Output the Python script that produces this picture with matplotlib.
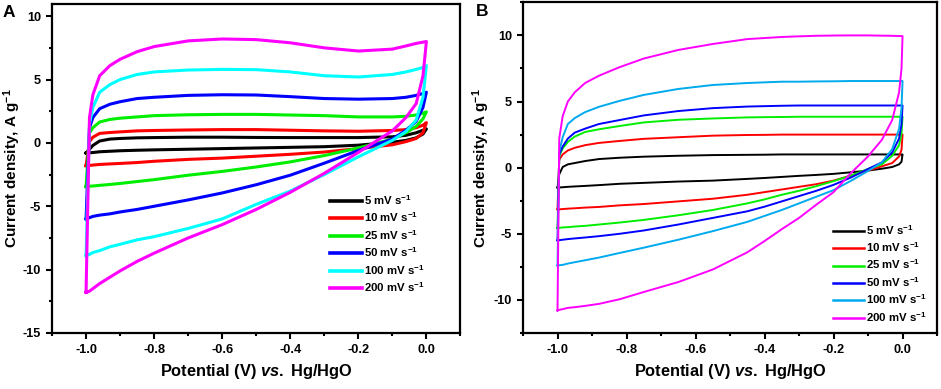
import matplotlib
matplotlib.use('Agg')
import matplotlib.pyplot as plt
from matplotlib.ticker import MultipleLocator

plt.rcParams['font.family'] = ['Liberation Sans', 'DejaVu Sans']
plt.rcParams['font.weight'] = 'bold'
plt.rcParams['axes.unicode_minus'] = False
plt.rcParams['mathtext.fontset'] = 'custom'
plt.rcParams['mathtext.rm'] = 'Liberation Sans:bold'
plt.rcParams['mathtext.bf'] = 'Liberation Sans:bold'
plt.rcParams['mathtext.it'] = 'Liberation Sans:italic:bold'
plt.rcParams['mathtext.bfit'] = 'Liberation Sans:italic:bold'

labels = ['5 mV s$^{-1}$', '10 mV s$^{-1}$', '25 mV s$^{-1}$',
          '50 mV s$^{-1}$', '100 mV s$^{-1}$', '200 mV s$^{-1}$']
colors_a = ['#000000', '#ff0000', '#00ee00', '#0000ff', '#00ffff', '#ff00ff']
colors_b = ['#000000', '#ff0000', '#00ee00', '#0000ff', '#00aaee', '#ff00ff']

# ---- panel A: potential grid, anodic (up) and cathodic (dn) branches
xa = [-1.0, -0.99, -0.98, -0.96, -0.93, -0.9, -0.85, -0.8, -0.7, -0.6, -0.5,
      -0.4, -0.3, -0.2, -0.1, -0.06, -0.03, -0.01, 0.0]

a_up_5 = [-0.8, -0.5, -0.2, 0.15, 0.3, 0.35, 0.4, 0.42, 0.45, 0.45, 0.43,
          0.42, 0.42, 0.42, 0.48, 0.6, 0.8, 1.0, 1.1]
a_dn_5 = [-0.8, -0.78, -0.76, -0.7, -0.66, -0.62, -0.58, -0.55, -0.5, -0.45, -0.4,
          -0.35, -0.3, -0.18, 0.05, 0.2, 0.4, 0.7, 1.1]
a_up_10 = [-1.8, 0.1, 0.45, 0.75, 0.82, 0.87, 0.95, 0.98, 1.02, 1.05, 1.05,
           1.0, 0.95, 0.92, 0.98, 1.05, 1.2, 1.4, 1.6]
a_dn_10 = [-1.8, -1.78, -1.75, -1.7, -1.66, -1.62, -1.55, -1.45, -1.3, -1.2, -1.05,
           -0.9, -0.72, -0.45, -0.15, 0.1, 0.35, 0.8, 1.6]
a_up_25 = [-3.45, 0.8, 1.2, 1.65, 1.85, 1.95, 2.05, 2.15, 2.22, 2.25, 2.25,
           2.2, 2.15, 2.05, 2.05, 2.1, 2.2, 2.35, 2.45]
a_dn_25 = [-3.45, -3.42, -3.4, -3.35, -3.28, -3.2, -3.05, -2.9, -2.55, -2.25, -1.9,
           -1.5, -1.0, -0.4, 0.3, 0.8, 1.3, 1.9, 2.45]
a_up_50 = [-6.0, 1.2, 2.0, 2.7, 3.05, 3.25, 3.5, 3.6, 3.75, 3.8, 3.78,
           3.65, 3.5, 3.45, 3.5, 3.6, 3.75, 3.9, 4.0]
a_dn_50 = [-6.0, -5.9, -5.8, -5.7, -5.6, -5.45, -5.25, -5.0, -4.5, -3.95, -3.3,
           -2.55, -1.6, -0.6, 0.3, 1.0, 1.7, 2.8, 4.0]
a_up_100 = [-8.9, 1.5, 2.8, 4.0, 4.6, 5.0, 5.4, 5.6, 5.75, 5.8, 5.78,
            5.6, 5.3, 5.2, 5.4, 5.6, 5.8, 5.95, 6.1]
a_dn_100 = [-8.9, -8.8, -8.65, -8.5, -8.2, -8.0, -7.65, -7.4, -6.75, -6.0, -4.85,
            -3.8, -2.5, -1.1, 0.2, 0.9, 1.8, 3.6, 6.1]
a_up_200 = [-11.8, 2.0, 3.8, 5.3, 6.1, 6.6, 7.2, 7.6, 8.05, 8.2, 8.15,
            7.9, 7.5, 7.25, 7.4, 7.65, 7.85, 7.95, 8.0]
a_dn_200 = [-11.8, -11.7, -11.5, -11.1, -10.6, -10.1, -9.35, -8.7, -7.5, -6.45, -5.25,
            -3.9, -2.4, -0.75, 0.95, 2.0, 3.1, 5.3, 8.0]

# ---- panel B
xb = [-1.0, -0.995, -0.985, -0.97, -0.95, -0.92, -0.88, -0.82, -0.75, -0.65, -0.55,
      -0.45, -0.4, -0.35, -0.3, -0.25, -0.2, -0.15, -0.1, -0.06, -0.03, -0.01,
      -0.003, 0.0]

b_up_5 = [-1.5, -0.5, 0.05, 0.25, 0.35, 0.5, 0.65, 0.75, 0.83, 0.9, 0.95,
          0.97, 0.98, 1.0, 1.0, 1.0, 1.0, 1.0, 1.0, 1.0, 1.0, 1.0, 1.0, 1.0]
b_dn_5 = [-1.5, -1.5, -1.48, -1.45, -1.42, -1.38, -1.32, -1.22, -1.15, -1.05, -0.98,
          -0.85, -0.78, -0.7, -0.62, -0.55, -0.47, -0.35, -0.22, -0.08, 0.05, 0.25,
          0.45, 1.0]
b_up_10 = [-3.15, 0.6, 1.0, 1.3, 1.5, 1.7, 1.87, 2.02, 2.18, 2.3, 2.42,
           2.47, 2.48, 2.5, 2.5, 2.5, 2.5, 2.5, 2.5, 2.5, 2.5, 2.5, 2.5, 2.5]
b_dn_10 = [-3.15, -3.15, -3.13, -3.1, -3.07, -3.02, -2.97, -2.85, -2.75, -2.55, -2.35,
           -2.05, -1.85, -1.65, -1.45, -1.25, -0.98, -0.6, -0.22, 0.1, 0.35, 0.85,
           1.35, 2.5]
b_up_25 = [-4.55, 0.9, 1.45, 1.95, 2.35, 2.7, 2.9, 3.15, 3.42, 3.62, 3.72,
           3.8, 3.82, 3.83, 3.85, 3.85, 3.85, 3.85, 3.85, 3.85, 3.85, 3.85, 3.85, 3.85]
b_dn_25 = [-4.55, -4.55, -4.52, -4.5, -4.45, -4.4, -4.3, -4.15, -3.95, -3.6, -3.2,
           -2.7, -2.4, -2.05, -1.75, -1.4, -1.02, -0.6, -0.1, 0.25, 0.9, 1.7,
           2.6, 3.85]
b_up_50 = [-5.5, 1.0, 1.6, 2.2, 2.65, 2.95, 3.3, 3.6, 3.95, 4.28, 4.5,
           4.62, 4.65, 4.68, 4.7, 4.7, 4.7, 4.7, 4.7, 4.7, 4.7, 4.7, 4.7, 4.7]
b_dn_50 = [-5.5, -5.48, -5.45, -5.4, -5.35, -5.28, -5.18, -5.0, -4.75, -4.3, -3.8,
           -3.3, -2.95, -2.55, -2.15, -1.75, -1.3, -0.75, -0.1, 0.4, 1.15, 2.2,
           3.3, 4.7]
b_up_100 = [-7.4, 1.2, 2.3, 3.3, 3.75, 4.2, 4.6, 5.05, 5.5, 5.95, 6.25,
            6.4, 6.45, 6.5, 6.5, 6.52, 6.53, 6.55, 6.55, 6.55, 6.55, 6.55, 6.55, 6.55]
b_dn_100 = [-7.4, -7.38, -7.35, -7.25, -7.15, -7.0, -6.8, -6.45, -6.05, -5.45, -4.8,
            -4.1, -3.65, -3.2, -2.7, -2.2, -1.7, -1.0, -0.25, 0.4, 1.4, 2.95,
            4.5, 6.55]
b_up_200 = [-10.8, 2.2, 3.9, 5.0, 5.7, 6.4, 6.95, 7.6, 8.25, 8.9, 9.35,
            9.72, 9.8, 9.88, 9.93, 9.97, 9.99, 10.0, 10.0, 9.98, 9.97, 9.95, 9.95, 9.95]
b_dn_200 = [-10.8, -10.75, -10.7, -10.6, -10.55, -10.45, -10.3, -9.95, -9.4, -8.65, -7.7,
            -6.4, -5.55, -4.65, -3.8, -2.8, -1.85, -0.42, 0.85, 2.1, 3.6, 5.7,
            7.5, 9.95]

a_up = [a_up_5, a_up_10, a_up_25, a_up_50, a_up_100, a_up_200]
a_dn = [a_dn_5, a_dn_10, a_dn_25, a_dn_50, a_dn_100, a_dn_200]
b_up = [b_up_5, b_up_10, b_up_25, b_up_50, b_up_100, b_up_200]
b_dn = [b_dn_5, b_dn_10, b_dn_25, b_dn_50, b_dn_100, b_dn_200]


def draw_panel(ax, xs, ups, dns, colors, lw, ylim, yticks):
    for up, dn, c, lab in zip(ups, dns, colors, labels):
        loop_x = xs + xs[::-1]
        loop_y = up + dn[::-1]
        ax.plot(loop_x, loop_y, color=c, lw=lw, label=lab, solid_joinstyle='round')
    ax.set_xlim(-1.1, 0.1)
    ax.set_ylim(*ylim)
    ax.set_xticks([-1.0, -0.8, -0.6, -0.4, -0.2, 0.0])
    ax.set_xticklabels(['-1.0', '-0.8', '-0.6', '-0.4', '-0.2', '0.0'])
    ax.xaxis.set_minor_locator(MultipleLocator(0.1))
    ax.set_yticks(yticks)
    ax.yaxis.set_minor_locator(MultipleLocator(2.5))
    ax.tick_params(which='major', direction='out', length=4, width=1.5,
                   labelsize=9.2, pad=4)
    ax.tick_params(which='minor', direction='out', length=2.5, width=1.5)
    for s in ax.spines.values():
        s.set_linewidth(1.6)
    ax.set_xlabel(r'Potential (V) $\mathit{vs.}$ Hg/HgO', fontsize=11.8, fontweight='bold')
    ax.set_ylabel(r'Current density, A g$^{-1}$', fontsize=11, fontweight='bold')


fig = plt.figure(figsize=(9.41, 3.89), dpi=100)
ax1 = fig.add_axes([0.0553, 0.144, 0.434, 0.847])
ax2 = fig.add_axes([0.5558, 0.144, 0.440, 0.850])

draw_panel(ax1, xa, a_up, a_dn, colors_a, 2.2, (-15, 11), [-15, -10, -5, 0, 5, 10])
draw_panel(ax2, xb, b_up, b_dn, colors_b, 1.4, (-12.5, 12.5), [-10, -5, 0, 5, 10])

ax1.yaxis.set_label_coords(-0.071, 0.5)
ax2.yaxis.set_label_coords(-0.075, 0.5)

leg1 = ax1.legend(loc='upper left', bbox_to_anchor=(0.67, 0.438), frameon=False,
                  fontsize=8.2, handlelength=2.8, handletextpad=0.15, labelspacing=0.32,
                  borderaxespad=0.0)
for h in leg1.get_lines():
    h.set_linewidth(2.6)
leg2 = ax2.legend(loc='upper left', bbox_to_anchor=(0.738, 0.347), frameon=False,
                  fontsize=8.2, handlelength=2.7, handletextpad=0.15, labelspacing=0.32,
                  borderaxespad=0.0)
for h in leg2.get_lines():
    h.set_linewidth(1.8)

fig.text(0.003, 0.987, 'A', fontsize=12.5, fontweight='bold', va='top')
fig.text(0.506, 0.99, 'B', fontsize=12.5, fontweight='bold', va='top')

fig.savefig('out.png', dpi=100)
